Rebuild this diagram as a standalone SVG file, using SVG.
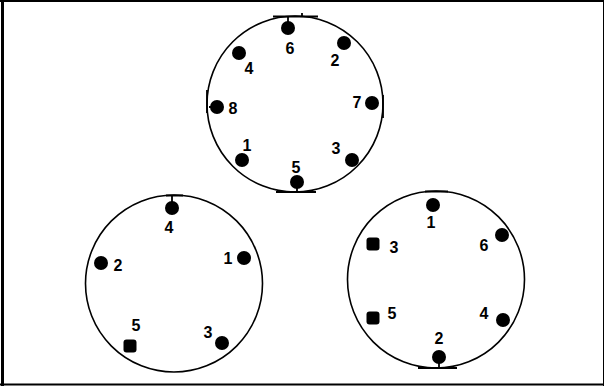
<svg xmlns="http://www.w3.org/2000/svg" width="604" height="386" viewBox="0 0 604 386">
<style>
.ring{fill:none;stroke:#000;stroke-width:1.6}
.flat{stroke:#000;stroke-width:1.8;fill:none}
.pin{fill:#000}
.lbl{font-family:"Liberation Sans",Arial,sans-serif;font-size:16px;font-weight:bold;fill:#000;text-anchor:middle}
</style>
<rect x="0" y="0" width="604" height="386" fill="#fff"/>
<g id="frame" fill="none" stroke="#000">
<line x1="0" y1="1" x2="604" y2="1" stroke-width="2"/>
<line x1="2.5" y1="0" x2="2.5" y2="386" stroke-width="3"/>
<line x1="0" y1="384.5" x2="604" y2="384.5" stroke-width="2"/>
<line x1="604" y1="0" x2="604" y2="386" stroke-width="2"/>
</g>
<g id="connector-8pin">
<circle class="ring" cx="295" cy="104" r="88"/>
<path class="flat" d="M273 16.5H318M302 13V16.5M276 192H316M297 186V192M207 90V113M383 95V118M209 107H217M288 17V28"/>
<circle class="pin" cx="288" cy="28" r="7"/>
<circle class="pin" cx="344" cy="43" r="7"/>
<circle class="pin" cx="239" cy="53" r="7"/>
<circle class="pin" cx="372" cy="103" r="7"/>
<circle class="pin" cx="217" cy="107" r="7"/>
<circle class="pin" cx="242" cy="160" r="7"/>
<circle class="pin" cx="297" cy="182" r="7"/>
<circle class="pin" cx="352" cy="160" r="7"/>
<text class="lbl" x="290" y="54">6</text>
<text class="lbl" x="335" y="66">2</text>
<text class="lbl" x="249" y="74">4</text>
<text class="lbl" x="357" y="108">7</text>
<text class="lbl" x="233" y="114">8</text>
<text class="lbl" x="247" y="151">1</text>
<text class="lbl" x="296" y="173">5</text>
<text class="lbl" x="336" y="154">3</text>
</g>
<g id="connector-5pin">
<circle class="ring" cx="174" cy="283.5" r="88.5"/>
<path class="flat" d="M166 195.5H183M172 196V208"/>
<circle class="pin" cx="172" cy="208" r="7"/>
<circle class="pin" cx="101" cy="263" r="7"/>
<circle class="pin" cx="244" cy="258" r="7"/>
<rect class="pin" x="123.5" y="339.5" width="13" height="13" rx="3"/>
<circle class="pin" cx="222" cy="343" r="7"/>
<text class="lbl" x="169" y="233">4</text>
<text class="lbl" x="118" y="271">2</text>
<text class="lbl" x="228" y="264">1</text>
<text class="lbl" x="136" y="331">5</text>
<text class="lbl" x="208" y="338">3</text>
</g>
<g id="connector-6pin">
<circle class="ring" cx="436" cy="279.5" r="88.5"/>
<path class="flat" d="M425 191.5H448M418 368H457M439 357V368"/>
<circle class="pin" cx="433" cy="205" r="7"/>
<circle class="pin" cx="502" cy="235" r="7"/>
<rect class="pin" x="366.5" y="237.5" width="13" height="13" rx="3"/>
<rect class="pin" x="366.5" y="311.5" width="13" height="13" rx="3"/>
<circle class="pin" cx="503" cy="320" r="7"/>
<circle class="pin" cx="439" cy="357" r="7"/>
<text class="lbl" x="431" y="228">1</text>
<text class="lbl" x="484" y="251">6</text>
<text class="lbl" x="394" y="253">3</text>
<text class="lbl" x="392" y="319">5</text>
<text class="lbl" x="484" y="319">4</text>
<text class="lbl" x="439" y="344">2</text>
</g>
</svg>
